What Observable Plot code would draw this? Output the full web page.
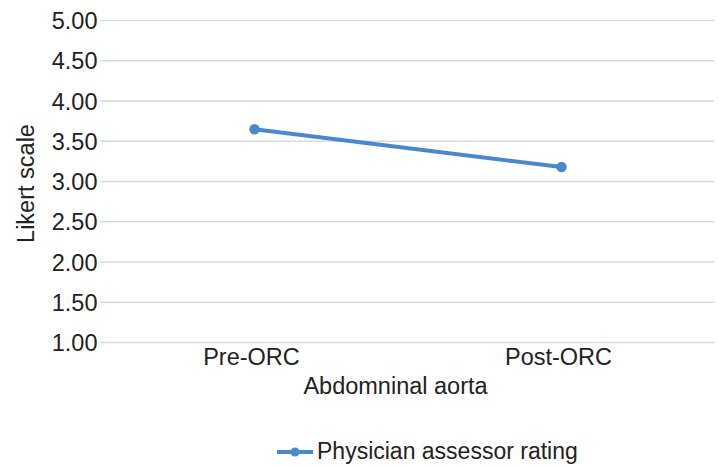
<!DOCTYPE html>
<html>
<head>
<meta charset="utf-8">
<script src="https://cdn.jsdelivr.net/npm/d3@7"></script>
<script src="https://cdn.jsdelivr.net/npm/@observablehq/plot@0.6"></script>
<style>
  html, body { margin: 0; padding: 0; background: #fff; }
  body { width: 719px; height: 466px; overflow: hidden; font-family: "Liberation Sans", Arial, sans-serif; color: #222; }
  #legend { height: 36px; display: flex; justify-content: flex-start; align-items: flex-start; }
  #legend .item { margin-left: 277px; margin-top: 10px; display: flex; align-items: center; font-size: 23px; line-height: 23px; }
  #legend svg { margin-right: 4px; }
</style>
</head>
<body>
<div id="chart"></div>
<div id="legend"></div>
<script>
const categories = ["Pre-ORC", "Post-ORC"];
const values = [3.65, 3.18];
const seriesName = "Physician assessor rating";
const yTicks = [1.0, 1.5, 2.0, 2.5, 3.0, 3.5, 4.0, 4.5, 5.0];
const xTitle = "Abdomninal aorta";
const yTitle = "Likert scale";

const data = categories.map((c, i) => ({category: c, value: values[i]}));
const blue = "#4a88cc";
const font = "Liberation Sans, Arial, sans-serif";
const fs = 23.5;

const chart = Plot.plot({
  width: 719,
  height: 430,
  marginTop: 20,
  marginBottom: 88,
  marginLeft: 100,
  marginRight: 5,
  style: {fontFamily: font, fontSize: fs + "px", color: "#222", background: "#fff"},
  x: {type: "point", domain: categories, padding: 0.5, label: null},
  y: {domain: [1, 5], label: null},
  marks: [
    Plot.gridY(yTicks, {stroke: "#d9d9d9", strokeOpacity: 1, strokeWidth: 1.5}),
    Plot.axisY(yTicks, {tickSize: 0, tickPadding: 3, fontSize: fs, dy: 1, tickFormat: d3.format(".2f"), label: null}),
    Plot.axisX({tickSize: 0, tickPadding: 6, fontSize: fs, dx: -3, label: null}),
    Plot.line(data, {x: "category", y: "value", stroke: blue, strokeWidth: 4}),
    Plot.dot(data, {x: "category", y: "value", r: 4.5, fill: blue, stroke: blue}),
    Plot.text([xTitle], {frameAnchor: "bottom", dx: -12, dy: 44, fontSize: fs, textAnchor: "middle", lineAnchor: "middle", fill: "#222"}),
    Plot.text([yTitle], {frameAnchor: "left", dx: -74, dy: 2, rotate: -90, fontSize: fs, textAnchor: "middle", lineAnchor: "middle", fill: "#222"})
  ]
});
document.getElementById("chart").appendChild(chart);

const legend = document.getElementById("legend");
const item = document.createElement("div");
item.className = "item";
item.innerHTML = `<svg width="36" height="12" viewBox="0 0 36 12"><line x1="0" y1="6" x2="36" y2="6" stroke="${blue}" stroke-width="4"/><circle cx="18" cy="6" r="4.5" fill="${blue}"/></svg><span></span>`;
item.querySelector("span").textContent = seriesName;
legend.appendChild(item);
</script>
</body>
</html>
